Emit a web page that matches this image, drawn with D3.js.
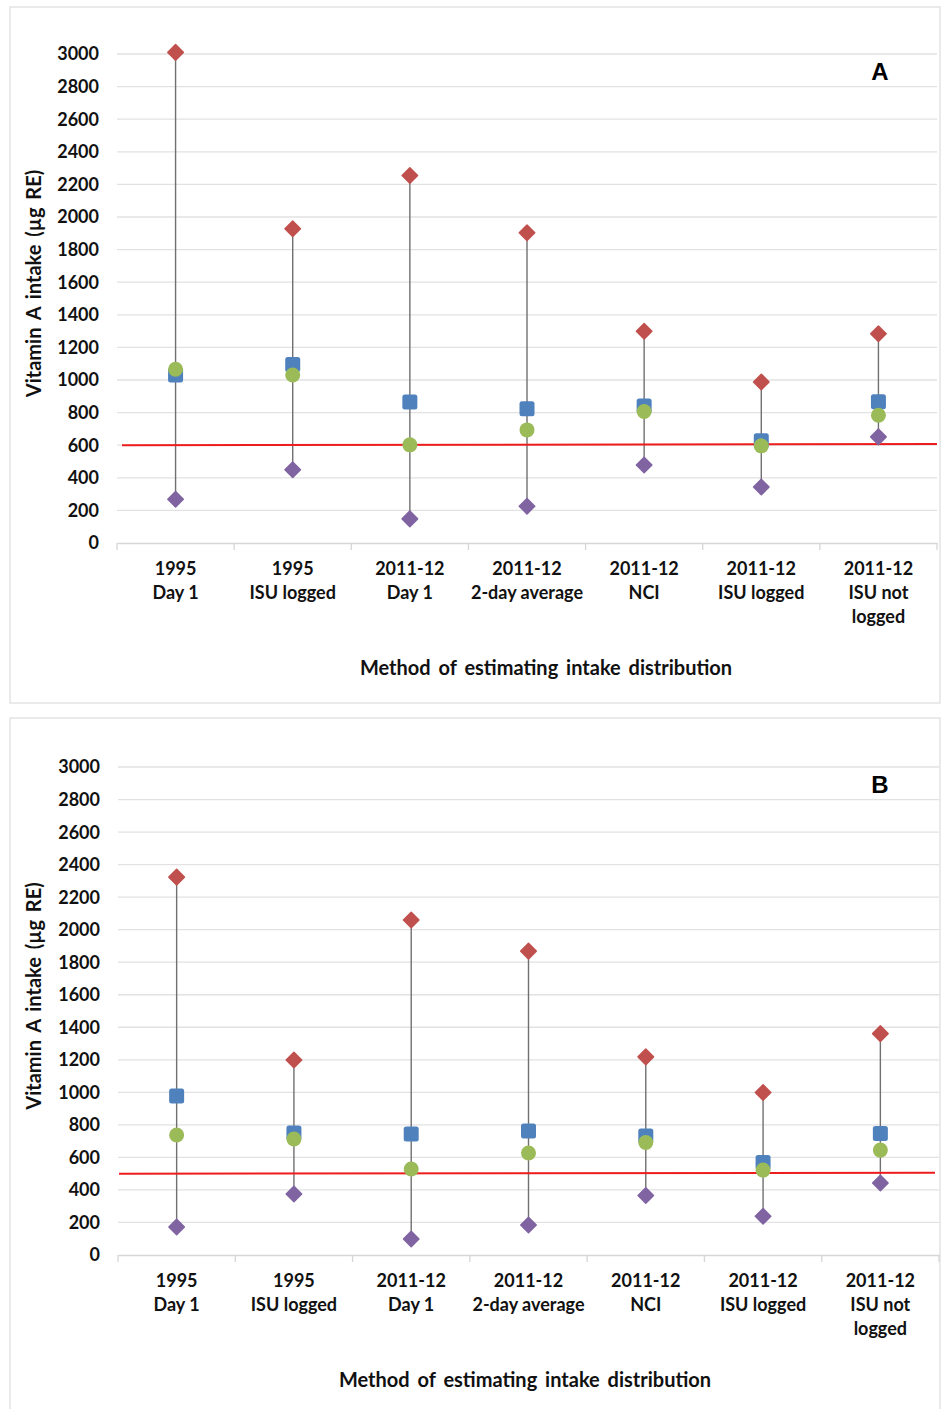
<!DOCTYPE html>
<html><head><meta charset="utf-8">
<script src="https://cdn.jsdelivr.net/npm/d3@7"></script>
<style>body{margin:0;background:#fff;}svg{display:block;}</style>
</head><body>
<svg id="chart" width="941" height="1409"></svg>
<script>
const categories = [["1995","Day 1"],["1995","ISU logged"],["2011-12","Day 1"],["2011-12","2-day average"],["2011-12","NCI"],["2011-12","ISU logged"],["2011-12","ISU not","logged"]];
const yTicks = [0,200,400,600,800,1000,1200,1400,1600,1800,2000,2200,2400,2600,2800,3000];

// Panel A
const aHigh = [3010, 1928, 2255, 1903, 1299, 988, 1284];
const aBlue = [1031, 1095, 865, 823, 840, 628, 866];
const aGreen = [1066, 1031, 602, 694, 807, 596, 784];
const aLow = [268, 449, 148, 226, 479, 343, 651];
const aRef = [600, 607];

// Panel B
const bHigh = [2323, 1199, 2059, 1868, 1218, 999, 1361];
const bBlue = [977, 750, 744, 762, 731, 568, 747];
const bGreen = [738, 713, 529, 627, 692, 522, 645];
const bLow = [172, 375, 98, 184, 366, 238, 443];
const bRef = [500, 505];

const svg = d3.select("#chart");
const FONT = "Lato, 'Open Sans', sans-serif";
const C = {red:"#C0504D", blue:"#4F81BD", green:"#9BBB59", purple:"#8064A2"};

function panel(o){
  const g = svg.append("g");
  g.append("rect").attr("x",o.box[0]).attr("y",o.box[1]).attr("width",o.box[2]).attr("height",o.box[3])
    .attr("fill","#fff").attr("stroke","#e3e3e3").attr("stroke-width",1.5);
  const x = d3.scaleBand().domain(d3.range(categories.length)).range([o.x0,o.x1]);
  const y = d3.scaleLinear().domain([0,3000]).range([o.y0,o.y1]);
  // gridlines
  g.selectAll(".grid").data(yTicks.filter(t=>t>0)).join("line")
    .attr("x1",o.x0).attr("x2",o.x1).attr("y1",d=>y(d)).attr("y2",d=>y(d))
    .attr("stroke","#e2e2e2").attr("stroke-width",1.3);
  // y tick labels
  g.selectAll(".yt").data(yTicks).join("text")
    .attr("x",o.x0-18).attr("y",d=>y(d)).attr("dy","0.36em").attr("text-anchor","end")
    .attr("font-family",FONT).attr("font-weight","bold").attr("font-size",18).attr("fill","#111")
    .text(d=>d);
  // x axis
  const xa = g.append("g").attr("transform",`translate(0,${o.y0})`)
    .call(d3.axisBottom(x).tickSize(0).tickFormat(""));
  xa.select(".domain").attr("stroke","#d6d6d6").attr("stroke-width",1.3);
  const bounds = d3.range(categories.length+1).map(i=>o.x0+i*x.step());
  g.selectAll(".xtick").data(bounds).join("line")
    .attr("x1",d=>d).attr("x2",d=>d).attr("y1",o.y0).attr("y2",o.y0+7)
    .attr("stroke","#d6d6d6").attr("stroke-width",1.3);
  // category labels
  categories.forEach((lines,i)=>{
    const t = g.append("text").attr("text-anchor","middle")
      .attr("font-family",FONT).attr("font-weight","bold").attr("font-size",18).attr("fill","#111");
    lines.forEach((ln,j)=>{
      t.append("tspan").attr("x",x(i)+x.bandwidth()/2).attr("y",o.y0+32+j*24).text(ln);
    });
  });
  // axis titles
  g.append("text").attr("x",o.xTitle).attr("y",o.y0+132).attr("text-anchor","middle")
    .attr("font-family",FONT).attr("font-weight","bold").attr("font-size",20).attr("word-spacing",3).attr("fill","#111")
    .text("Method of estimating intake distribution");
  g.append("text").attr("transform",`translate(41,${(o.y0+o.y1)/2-15}) rotate(-90)`).attr("text-anchor","middle")
    .attr("font-family",FONT).attr("font-weight","bold").attr("font-size",20).attr("word-spacing",3).attr("fill","#111")
    .text("Vitamin A intake (µg RE)");
  // panel letter
  g.append("text").attr("x",o.letterX).attr("y",o.y1+26).attr("text-anchor","middle")
    .attr("font-family","'Liberation Sans', Arial, sans-serif").attr("font-weight","bold").attr("font-size",24).attr("fill","#000")
    .text(o.letter);
  const cx = i=>x(i)+x.bandwidth()/2;
  // hi-lo lines
  g.selectAll(".hl").data(d3.range(categories.length)).join("line")
    .attr("x1",cx).attr("x2",cx).attr("y1",i=>y(o.high[i])).attr("y2",i=>y(o.low[i]))
    .attr("stroke","#707070").attr("stroke-width",1.4);
  // reference line
  g.append("line").attr("x1",o.refX[0]).attr("x2",o.refX[1]).attr("y1",y(o.ref[0])).attr("y2",y(o.ref[1]))
    .attr("stroke","#EE1C1C").attr("stroke-width",2);
  const diamond = d3.symbol().type(d3.symbolSquare).size(120);
  function diamonds(vals,color){
    g.selectAll(null).data(vals).join("path").attr("d",diamond)
      .attr("transform",(d,i)=>`translate(${cx(i)},${y(d)}) rotate(45)`)
      .attr("fill",color).attr("stroke",color).attr("stroke-width",1.5).attr("stroke-linejoin","round");
  }
  diamonds(o.low,C.purple);
  diamonds(o.high,C.red);
  g.selectAll(null).data(o.blue).join("rect")
    .attr("x",(d,i)=>cx(i)-7.5).attr("y",d=>y(d)-7.5).attr("width",15).attr("height",15).attr("rx",2.5)
    .attr("fill",C.blue);
  g.selectAll(null).data(o.green).join("circle")
    .attr("cx",(d,i)=>cx(i)).attr("cy",d=>y(d)).attr("r",7.5).attr("fill",C.green);
}

panel({box:[10,7,930,696], x0:117, x1:937, y0:543, y1:54, high:aHigh, blue:aBlue, green:aGreen, low:aLow,
  ref:aRef, refX:[122,937], letter:"A", letterX:880, xTitle:546});
panel({box:[10,718,930,700], x0:118, x1:939, y0:1255, y1:767, high:bHigh, blue:bBlue, green:bGreen, low:bLow,
  ref:bRef, refX:[119,935], letter:"B", letterX:880, xTitle:525});
</script>
</body></html>
